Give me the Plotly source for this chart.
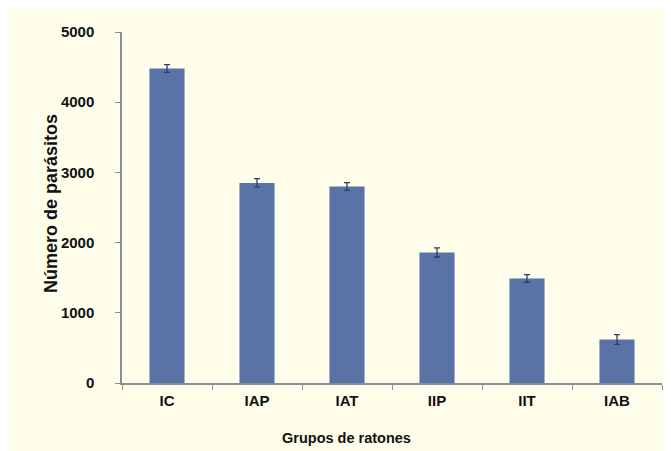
import plotly.graph_objects as go

grupos = ["IC", "IAP", "IAT", "IIP", "IIT", "IAB"]
parasitos = [4480, 2850, 2800, 1860, 1490, 620]
error = [55, 60, 55, 65, 55, 70]
y_ticks = [0, 1000, 2000, 3000, 4000, 5000]

bg = "#FFFEEB"
font = "Liberation Sans, Arial, sans-serif"

fig = go.Figure(go.Bar(
    x=grupos, y=parasitos,
    marker=dict(color="#5A73A6", line=dict(width=0)),
    error_y=dict(type="data", array=error, visible=True, color="#2B3F6E", thickness=1.3, width=3),
    width=0.39,
))

L, R, T, B = 114, 17, 24, 76
plot_w = 671 - L - R

fig.update_layout(
    width=671, height=451,
    paper_bgcolor=bg, plot_bgcolor=bg,
    margin=dict(l=L, r=R, t=T, b=B),
    showlegend=False,
    font=dict(family=font, color="#111111"),
    xaxis=dict(
        showline=True, linecolor="#8A8E9A", linewidth=1.5,
        ticks="outside", tickson="boundaries", ticklen=5, tickcolor="#8A8E9A",
        tickfont=dict(size=15, family=font, weight="bold"),
        ticklabelstandoff=3,
        showgrid=False,
    ),
    yaxis=dict(
        range=[0, 5000], tickvals=y_ticks,
        showline=True, linecolor="#8A8E9A", linewidth=1.5,
        ticks="outside", ticklen=5, tickcolor="#8A8E9A",
        tickfont=dict(size=15, family=font, weight="bold"),
        ticklabelstandoff=18,
        showgrid=False, zeroline=False,
    ),
    annotations=[
        dict(text="<b>Grupos de ratones</b>", xref="paper", yref="paper",
             x=(338 - L) / plot_w, y=0, yanchor="middle", yshift=-55,
             showarrow=False, font=dict(size=14.5, family=font, color="#111111")),
        dict(text="<b>Número de parásitos</b>", xref="paper", yref="paper",
             x=(42.5 - L) / plot_w, y=0.5, xanchor="center", yanchor="middle", yshift=4,
             textangle=-90, showarrow=False,
             font=dict(size=18, family=font, color="#111111")),
    ],
)

fig.write_html("out.html")
